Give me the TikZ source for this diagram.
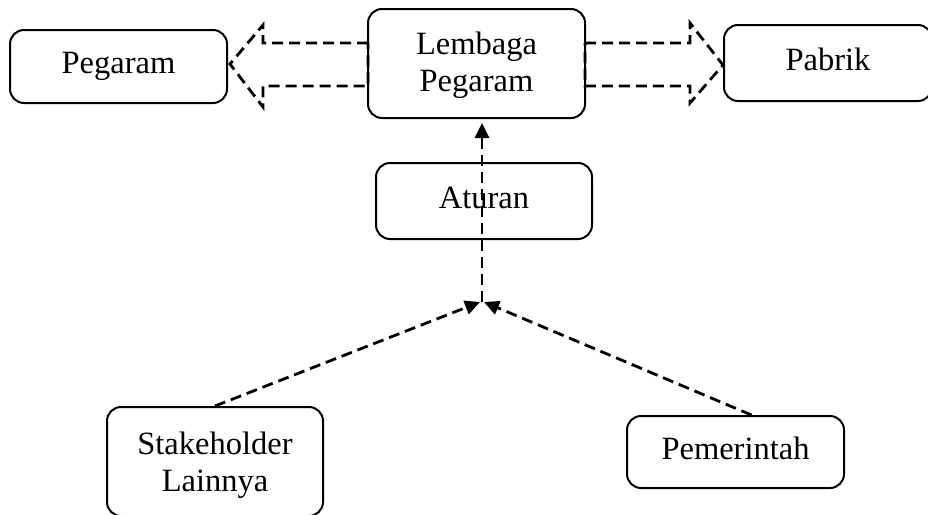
\documentclass[tikz,border=0pt]{standalone}
\usepackage{fontspec}
\setmainfont{Liberation Serif}
\usetikzlibrary{arrows.meta}
\begin{document}
\begin{tikzpicture}[x=1pt,y=-1pt,
  box/.style={draw, line width=2pt, rounded corners=14pt, inner sep=0pt,
    align=center, font=\fontsize{32.5}{37}\selectfont},
  oneline/.style={text height=22.5pt, text depth=8pt},
  dashline/.style={line width=2.8pt, dash pattern=on 11pt off 6pt},
  arr/.style={dashline, -{Triangle[length=15pt,width=14pt]}}]
\useasboundingbox (0,0) rectangle (928,514);
\begin{scope}
\clip (0,0) rectangle (928,514);
\node[box, oneline, minimum width=217pt, minimum height=73pt] (peg) at (118.5,66.5) {Pegaram};
\node[box, minimum width=217pt, minimum height=109pt, text depth=3pt] (lem) at (476.5,63.5) {Lembaga\\Pegaram};
\node[box, oneline, minimum width=208pt, minimum height=76pt] (pab) at (828,63) {Pabrik};
\node[box, oneline, minimum width=216pt, minimum height=76pt] (atu) at (484,201) {Aturan};
\node[box, minimum width=216pt, minimum height=109pt, text depth=0pt] (stk) at (215,461.5) {Stakeholder\\Lainnya};
\node[box, oneline, minimum width=217pt, minimum height=72pt] (pem) at (735.5,452) {Pemerintah};
\end{scope}
% block arrows
\draw[dashline, line join=miter] (368,43) -- (263,43) -- (263,25) -- (230,64) -- (263,107) -- (263,86) -- (368,86) -- cycle;
\draw[dashline, line join=miter] (585,43) -- (690,43) -- (690,23) -- (723,65) -- (690,103) -- (690,86) -- (585,86) -- cycle;
% connectors
\coordinate (m) at (482,302);
\draw[arr] (stk.north) -- ([xshift=-2pt]m);
\draw[arr] ([xshift=16pt]pem.north) -- ([xshift=2pt]m);
\draw[arr, shorten >=4pt] (m) -- (m |- lem.south);
\end{tikzpicture}
\end{document}
